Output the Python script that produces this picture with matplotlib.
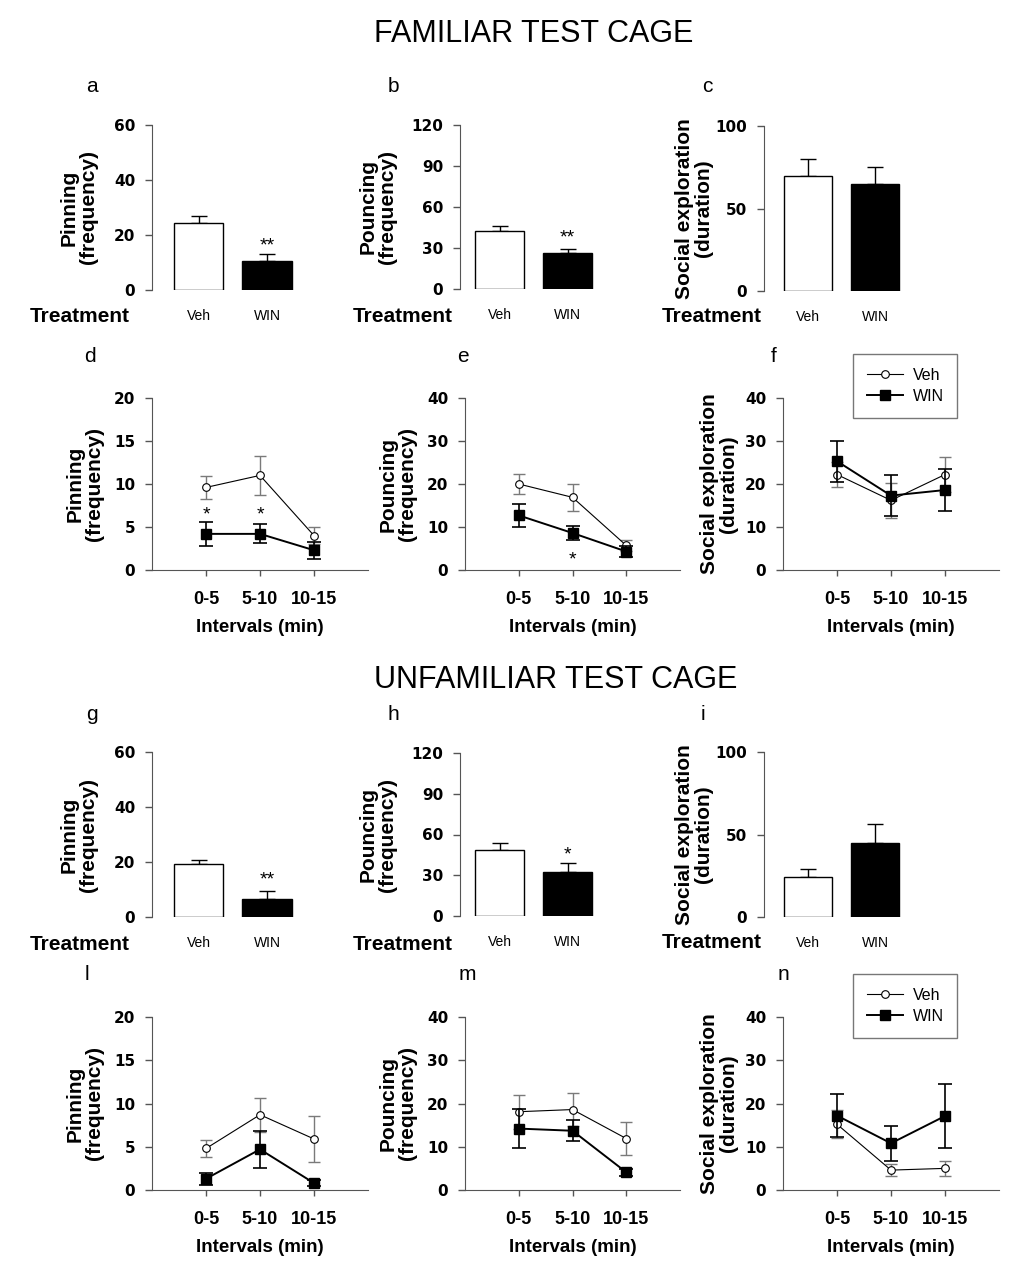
import numpy as np
import matplotlib.pyplot as plt
from matplotlib.lines import Line2D

plt.rcParams['font.family'] = ['Liberation Sans', 'DejaVu Sans']

# ---- data ----
bar_groups = ['Veh', 'WIN']
intervals = ['0-5', '5-10', '10-15']

# familiar test cage, totals
fam_pin_bar = [24.3, 10.4]
fam_pin_bar_err = [2.7, 2.6]
fam_pou_bar = [42.2, 26.1]
fam_pou_bar_err = [4.1, 3.2]
fam_soc_bar = [69.7, 65.0]
fam_soc_bar_err = [10.5, 10.2]

# unfamiliar test cage, totals
unf_pin_bar = [19.2, 6.5]
unf_pin_bar_err = [1.5, 2.8]
unf_pou_bar = [48.8, 32.4]
unf_pou_bar_err = [5.2, 6.3]
unf_soc_bar = [24.4, 45.0]
unf_soc_bar_err = [4.9, 11.2]

# familiar test cage, 5-min intervals
fam_pin_veh = [9.6, 11.0, 4.0]
fam_pin_veh_err = [1.3, 2.25, 0.95]
fam_pin_win = [4.2, 4.2, 2.3]
fam_pin_win_err = [1.4, 1.1, 1.0]
fam_pou_veh = [20.0, 16.9, 5.7]
fam_pou_veh_err = [2.3, 3.1, 1.2]
fam_pou_win = [12.7, 8.6, 4.3]
fam_pou_win_err = [2.6, 1.7, 1.3]
fam_soc_veh = [22.2, 16.2, 22.2]
fam_soc_veh_err = [3.0, 4.0, 4.0]
fam_soc_win = [25.3, 17.3, 18.6]
fam_soc_win_err = [4.8, 4.7, 4.8]

# unfamiliar test cage, 5-min intervals
unf_pin_veh = [4.8, 8.7, 5.9]
unf_pin_veh_err = [1.0, 1.95, 2.65]
unf_pin_win = [1.3, 4.7, 0.8]
unf_pin_win_err = [0.7, 2.1, 0.35]
unf_pou_veh = [18.1, 18.6, 11.9]
unf_pou_veh_err = [3.9, 3.9, 3.8]
unf_pou_win = [14.2, 13.7, 4.1]
unf_pou_win_err = [4.5, 2.4, 0.85]
unf_soc_veh = [15.2, 4.6, 5.0]
unf_soc_veh_err = [3.2, 1.3, 1.8]
unf_soc_win = [17.2, 10.8, 17.1]
unf_soc_win_err = [5.0, 4.0, 7.3]

W, H = 1029, 1278
SPINE = '#555555'
fig = plt.figure(figsize=(W / 100, H / 100), dpi=100)


def box(left, top, right, bottom):
    # pixel box -> figure fraction
    return [left / W, 1 - bottom / H, (right - left) / W, (bottom - top) / H]


def ftext(x, y, s, **kw):
    fig.text(x / W, 1 - y / H, s, **kw)


def style_left(ax, width_px, label_right):
    for side in ['top', 'right']:
        ax.spines[side].set_visible(False)
    ax.spines['left'].set_color(SPINE)
    ax.spines['bottom'].set_color(SPINE)
    ax.tick_params(axis='y', direction='out', length=5, width=1, color=SPINE,
                   pad=7, labelsize=11)
    for lbl in ax.get_yticklabels():
        lbl.set_fontweight('bold')
        lbl.set_family('DejaVu Sans')
    ax.yaxis.set_label_coords(label_right / width_px, 0.5)


def bar_panel(rect, xlim, vals, errs, ymax, yticks, ylabel, label_right,
              star=None, star_y=None):
    ax = fig.add_axes(box(*rect))
    x = np.arange(len(bar_groups))
    ax.errorbar(x, vals, yerr=[np.zeros(len(vals)), errs], fmt='none',
                ecolor='black', elinewidth=1, capsize=6, capthick=1, zorder=1)
    ax.bar(x, vals, width=0.72, color=['white', 'black'], edgecolor='black',
           linewidth=1, zorder=2)
    ax.set_xlim(xlim)
    ax.set_ylim(0, ymax)
    ax.set_yticks(yticks)
    ax.set_xticks(x, bar_groups, fontsize=10)
    ax.tick_params(axis='x', length=0, pad=14)
    ax.spines['bottom'].set_visible(False)
    ax.set_ylabel(ylabel, fontsize=15, fontweight='bold', linespacing=1.0)
    style_left(ax, rect[2] - rect[0], label_right)
    if star:
        ax.text(1, star_y, star, ha='center', va='center', fontsize=14)
    return ax


def line_panel(rect, veh, veh_err, win, win_err, ymax, yticks, ylabel,
               label_right, stars=(), legend_pos=None):
    ax = fig.add_axes(box(*rect))
    x = np.arange(1, len(intervals) + 1)
    ax.errorbar(x, veh, yerr=veh_err, fmt='none', ecolor='#7a7a7a',
                elinewidth=1, capsize=4.5, capthick=1, zorder=2)
    ax.plot(x, veh, color='black', lw=0.8, marker='o', ms=5.5, mfc='white',
            mec='black', mew=0.8, zorder=3)
    ax.errorbar(x, win, yerr=win_err, fmt='none', ecolor='black',
                elinewidth=1.2, capsize=5, capthick=1.2, zorder=4)
    ax.plot(x, win, color='black', lw=1.4, marker='s', ms=7.5, mfc='black',
            mec='black', zorder=5)
    ax.set_xlim(0, 4)
    ax.set_ylim(0, ymax)
    ax.set_yticks(yticks)
    ax.set_xticks(x, intervals, fontsize=13, fontweight='bold')
    ax.tick_params(axis='x', direction='out', length=4, width=1, color=SPINE,
                   pad=11)
    ax.set_xlabel('Intervals (min)', fontsize=13.5, fontweight='bold')
    ax.xaxis.set_label_coords(0.5, -49 / (rect[3] - rect[1]))
    ax.set_ylabel(ylabel, fontsize=15, fontweight='bold', linespacing=1.0)
    style_left(ax, rect[2] - rect[0], label_right)
    for xi, yi in stars:
        ax.text(xi, yi, '*', ha='center', va='center', fontsize=14)
    if legend_pos:
        handles = [Line2D([], [], color='black', lw=0.8, marker='o', ms=5.5,
                          mfc='white', mec='black', mew=0.8),
                   Line2D([], [], color='black', lw=1.4, marker='s', ms=7.5,
                          mfc='black')]
        leg = ax.legend(handles, bar_groups, loc='upper left',
                        bbox_to_anchor=(legend_pos[0] / W, 1 - legend_pos[1] / H),
                        bbox_transform=fig.transFigure, borderaxespad=0,
                        fontsize=11.5, frameon=True, fancybox=False,
                        handlelength=2.3, handletextpad=0.6, borderpad=0.85,
                        labelspacing=0.4)
        leg.get_frame().set_edgecolor(SPINE)
        leg.get_frame().set_linewidth(1)
    return ax


pin_lab = 'Pinning\n(frequency)'
pou_lab = 'Pouncing\n(frequency)'
soc_lab = 'Social exploration\n(duration)'

# titles
ftext(534, 34, 'FAMILIAR TEST CAGE', fontsize=22, ha='center', va='center')
ftext(556, 680, 'UNFAMILIAR TEST CAGE', fontsize=22, ha='center', va='center')

# --- familiar: totals ---
bar_panel((152, 125, 300, 290), (-0.68, 1.48), fam_pin_bar, fam_pin_bar_err,
          60, [0, 20, 40, 60], pin_lab, -54, '**', 16.0)
bar_panel((460, 125, 610, 289), (-0.58, 1.62), fam_pou_bar, fam_pou_bar_err,
          120, [0, 30, 60, 90, 120], pou_lab, -63, '**', 37.5)
bar_panel((764, 126, 915, 291), (-0.65, 1.59), fam_soc_bar, fam_soc_bar_err,
          100, [0, 50, 100], soc_lab, -51)

# --- familiar: intervals ---
line_panel((152, 398, 368, 570), fam_pin_veh, fam_pin_veh_err, fam_pin_win,
           fam_pin_win_err, 20, [0, 5, 10, 15, 20], pin_lab, -48,
           stars=[(1, 6.4), (2, 6.4)])
line_panel((465, 398, 680, 570), fam_pou_veh, fam_pou_veh_err, fam_pou_win,
           fam_pou_win_err, 40, [0, 10, 20, 30, 40], pou_lab, -48,
           stars=[(2, 2.4)])
line_panel((783, 398, 999, 570), fam_soc_veh, fam_soc_veh_err, fam_soc_win,
           fam_soc_win_err, 40, [0, 10, 20, 30, 40], soc_lab, -45,
           legend_pos=(853, 354))

# --- unfamiliar: totals ---
bar_panel((152, 752, 300, 917), (-0.68, 1.48), unf_pin_bar, unf_pin_bar_err,
          60, [0, 20, 40, 60], pin_lab, -54, '**', 13.5)
bar_panel((460, 753, 610, 916), (-0.58, 1.62), unf_pou_bar, unf_pou_bar_err,
          120, [0, 30, 60, 90, 120], pou_lab, -63, '*', 45.0)
bar_panel((764, 752, 915, 917), (-0.65, 1.59), unf_soc_bar, unf_soc_bar_err,
          100, [0, 50, 100], soc_lab, -51)

# --- unfamiliar: intervals ---
line_panel((152, 1017, 368, 1190), unf_pin_veh, unf_pin_veh_err, unf_pin_win,
           unf_pin_win_err, 20, [0, 5, 10, 15, 20], pin_lab, -48)
line_panel((465, 1017, 680, 1190), unf_pou_veh, unf_pou_veh_err, unf_pou_win,
           unf_pou_win_err, 40, [0, 10, 20, 30, 40], pou_lab, -48)
line_panel((783, 1017, 999, 1190), unf_soc_veh, unf_soc_veh_err, unf_soc_win,
           unf_soc_win_err, 40, [0, 10, 20, 30, 40], soc_lab, -45,
           legend_pos=(853, 974))

# "Treatment" row labels
for x, y in [(30, 317), (353, 317), (662, 317), (30, 944), (353, 944), (662, 943)]:
    ftext(x, y, 'Treatment', fontsize=15, fontweight='bold', ha='left', va='center')

# panel letters
letters = [('a', 92, 86), ('b', 393, 86), ('c', 707, 86),
           ('d', 90, 357), ('e', 463, 357), ('f', 774, 357),
           ('g', 92, 715), ('h', 393, 715), ('i', 703, 715),
           ('l', 87, 975), ('m', 467, 975), ('n', 783, 975)]
for s, x, y in letters:
    ftext(x, y, s, fontsize=15, ha='center', va='center')

fig.savefig('out.png', dpi=100)
